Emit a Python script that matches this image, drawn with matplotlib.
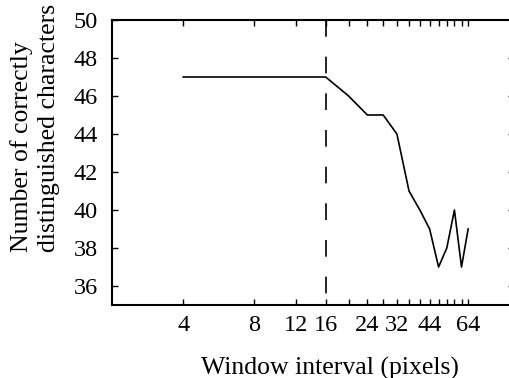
import matplotlib
matplotlib.use("Agg")
import matplotlib.pyplot as plt
from matplotlib.ticker import FixedLocator, NullFormatter

window = [4, 8, 12, 16, 20, 24, 28, 32, 36, 40, 44, 48, 52, 56, 60, 64]
correct = [47, 47, 47, 47, 46, 45, 45, 44, 41, 40, 39, 37, 38, 40, 37, 39]
xtick_labels = [4, 8, 12, 16, 24, 32, 44, 64]
xtick_marks = [4, 8, 12, 16, 20, 24, 28, 32, 36, 40, 44, 48, 52, 56, 60, 64]
yticks = [36, 38, 40, 42, 44, 46, 48, 50]
vline_x = 16

plt.rcParams['font.family'] = ['Liberation Serif']
fig = plt.figure(figsize=(5.1, 3.78), dpi=100)
ax = fig.add_axes([112/510, 1-305/378, (514-112)/510, (305-20)/378])

ax.plot(window, correct, color='black', lw=1.2)
ax.axvline(vline_x, ymin=1, ymax=0, color='black', lw=1.2, dashes=(10, 12))

ax.set_xscale('log', base=2)
ax.set_xlim(2, 100)
ax.set_ylim(35, 50)

ax.xaxis.set_major_locator(FixedLocator(xtick_labels))
ax.set_xticklabels([str(v) for v in xtick_labels])
ax.xaxis.set_minor_locator(FixedLocator([m for m in xtick_marks if m not in xtick_labels]))
ax.xaxis.set_minor_formatter(NullFormatter())
ax.set_yticks(yticks)

ax.tick_params(which='both', direction='in', top=True, right=True, length=4, width=1,
               labelsize=17.5)
ax.tick_params(axis='x', pad=7)
ax.tick_params(axis='y', pad=10)
for s in ax.spines.values():
    s.set_linewidth(1.5)

ax.set_xlabel('Window interval (pixels)', fontsize=18.5)
ax.xaxis.set_label_coords((330-112)/402, (305-368)/285)
ax.xaxis.label.set_va('center')

fig.text(35/510, 1-252/378, 'Number of correctly\ndistinguished characters',
         rotation=90, ha='center', va='bottom', multialignment='left',
         fontsize=18.5, linespacing=1.3)

fig.savefig('out.png', dpi=100)
